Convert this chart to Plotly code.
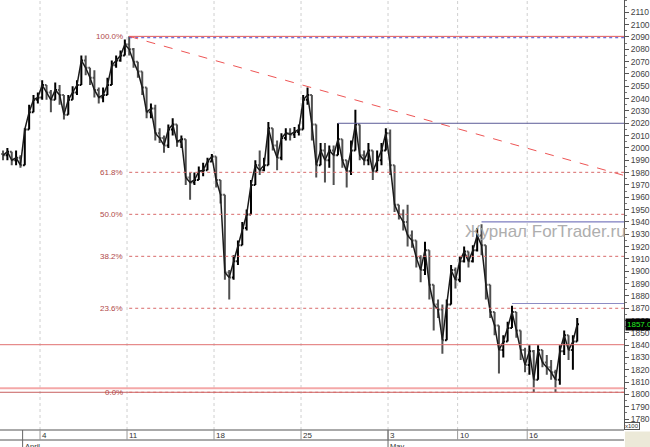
import plotly.graph_objects as go

# ---------------- data ----------------
BARS_PER_DAY = 4
BARS_BEFORE_APR4 = 9          # 1 bar of Mar 30, Mar 31, Apr 1

close = [1994, 1997, 1990, 1992, 1986, 2015, 2029, 2039, 2041, 2051,
         2045, 2039, 2047, 2043, 2027, 2039, 2045, 2051, 2071, 2065,
         2057, 2047, 2041, 2043, 2051, 2067, 2071, 2075, 2084, 2080,
         2070, 2062, 2049, 2029, 2032, 2012, 2008, 2002, 2015, 2019,
         2005, 2007, 1976, 1972, 1974, 1981, 1982, 1989, 1993, 1974,
         1962, 1899, 1895, 1908, 1921, 1935, 1946, 1970, 1986, 1982,
         1986, 2016, 2002, 1992, 2008, 2012, 2011, 2013, 2015, 2039,
         2043, 2019, 1986, 1998, 1990, 1998, 1994, 2007, 1990, 1981,
         1998, 2019, 1994, 1990, 1998, 1981, 1990, 1998, 2012, 1986,
         1954, 1946, 1940, 1929, 1925, 1911, 1901, 1917, 1889, 1873,
         1869, 1844, 1873, 1901, 1893, 1908, 1916, 1908, 1917, 1929,
         1921, 1889, 1867, 1856, 1836, 1843, 1854, 1867, 1852, 1836,
         1824, 1835, 1812, 1836, 1826, 1822, 1818, 1812, 1835, 1848,
         1836, 1843, 1857]

high = [1998, 2000, 1997, 1998, 1994, 2016, 2035, 2043, 2045, 2055,
        2051, 2047, 2053, 2051, 2035, 2043, 2050, 2055, 2075, 2075,
        2065, 2063, 2049, 2049, 2057, 2071, 2075, 2079, 2088, 2090.5,
        2081, 2070, 2062, 2047, 2036, 2035, 2016, 2010, 2019, 2024,
        2015, 2010, 2006, 1980, 1980, 1985, 1988, 1992, 1995, 1993,
        1970, 1962, 1901, 1913, 1925, 1940, 1950, 1974, 1990, 1998,
        1992, 2021, 2016, 2006, 2012, 2016, 2016, 2017, 2019, 2043,
        2049, 2043, 2019, 2004, 2004, 2002, 2002, 2020, 2002, 1990,
        2006, 2031, 2006, 1998, 2004, 1998, 1998, 2004, 2016, 2015,
        1986, 1954, 1950, 1954, 1933, 1925, 1913, 1924, 1913, 1889,
        1877, 1873, 1877, 1905, 1903, 1912, 1920, 1916, 1921, 1935,
        1938, 1921, 1881, 1867, 1856, 1848, 1859, 1872, 1867, 1852,
        1838, 1840, 1836, 1840, 1836, 1832, 1828, 1820, 1840, 1852,
        1848, 1848, 1862]

low = [1990, 1990, 1986, 1986, 1984, 1986, 2015, 2031, 2036, 2039,
       2039, 2029, 2041, 2035, 2023, 2027, 2039, 2043, 2051, 2059,
       2051, 2041, 2036, 2037, 2045, 2051, 2065, 2070, 2075, 2075,
       2065, 2057, 2043, 2024, 2024, 2006, 2004, 1996, 2000, 2010,
       2001, 2000, 1970, 1958, 1970, 1974, 1977, 1982, 1989, 1968,
       1955, 1893, 1877, 1893, 1905, 1921, 1933, 1946, 1970, 1978,
       1981, 1986, 1998, 1982, 1990, 2006, 2006, 2008, 2010, 2015,
       2035, 2006, 1976, 1986, 1972, 1984, 1970, 1997, 1984, 1968,
       1978, 1998, 1990, 1986, 1986, 1974, 1982, 1986, 1998, 1978,
       1948, 1942, 1933, 1920, 1919, 1903, 1891, 1897, 1877, 1852,
       1862, 1833, 1852, 1873, 1886, 1891, 1907, 1903, 1907, 1916,
       1913, 1877, 1862, 1848, 1817, 1830, 1844, 1854, 1846, 1828,
       1818, 1816, 1802, 1812, 1822, 1816, 1812, 1802, 1808, 1832,
       1828, 1820, 1843]

first_open = 1995

tick_days = [0, 5, 10, 15, 20, 24, 28]          # trading days after Apr 4
tick_labels = ["4", "11", "18", "25", "3", "10", "16"]
month_days = [-1, 20]
month_labels = ["April", "May"]

y_ticks = list(range(1780, 2111, 10))
Y_RANGE = [1771.2, 2120.0]

FIB_HIGH = 2090.5
FIB_LOW = 1801.8
fib_levels = [100.0, 61.8, 50.0, 38.2, 23.6, 0.0]
fib_labels = ["100.0%", "61.8%", "50.0%", "38.2%", "23.6%", "0.0%"]

TREND_END_PRICE = 1977.7                        # where the dashed trend line leaves the chart

resist_prices = [2089.4, 2020.0, 1940.0, 1873.8]
resist_start_bars = [29, 77, 110, 117]
resist_colors = ["#4a4ad0", "#5c5c98", "#5c5cb0", "#8c8cc4"]
resist_dash = ["dot", "solid", "solid", "solid"]

full_lines = [1840.4, 1805.0, 1801.8]
full_colors = ["#e07070", "#f4a8a8", "#c86060"]
full_widths = [1, 2, 1]

LAST_PRICE_TEXT = "1857.0"
WATERMARK = "Журнал ForTrader.ru"

# ---------------- derived ----------------
n = len(close)
xs = list(range(n))
opens = [first_open] + close[:-1]
highs = [max(h, o, c) for h, o, c in zip(high, opens, close)]
lows = [min(l, o, c) for l, o, c in zip(low, opens, close)]

XMIN, XMAX = -0.7, 142.75
PLOT_W, PLOT_H = 624, 430


def day_x(d):
    return BARS_BEFORE_APR4 - 0.5 + BARS_PER_DAY * d


peak_bar = max(range(n), key=lambda i: highs[i])

fig = go.Figure()
# close path (gives the dense, continuous look of the intraday bars)
fig.add_trace(go.Scatter(x=xs, y=close, mode="lines", line=dict(color="#1a1a1a", width=1.5),
                         hoverinfo="skip", showlegend=False))
fig.add_trace(go.Ohlc(
    x=xs, open=opens, high=highs, low=lows, close=close,
    increasing=dict(line=dict(color="#000000", width=2)),
    decreasing=dict(line=dict(color="#505050", width=2)),
    tickwidth=0.4, hoverinfo="skip", showlegend=False,
))

shapes = []
# vertical dotted week gridlines
for d in tick_days:
    shapes.append(dict(type="line", xref="x", yref="paper", x0=day_x(d), x1=day_x(d),
                       y0=0, y1=1, line=dict(color="#cfcfcf", width=1, dash="dot"), layer="below"))

# full-width horizontal lines
for p, c, w in zip(full_lines, full_colors, full_widths):
    shapes.append(dict(type="line", xref="paper", yref="y", x0=0, x1=1, y0=p, y1=p,
                       line=dict(color=c, width=w)))

# fibonacci levels
rng = FIB_HIGH - FIB_LOW
annotations = []
for lv, lab in zip(fib_levels, fib_labels):
    p = FIB_LOW + rng * lv / 100.0
    if lv == 100.0:
        ln = dict(color="#e05a5a", width=1)
    else:
        ln = dict(color="#d86a6a", width=1, dash="dot")
    shapes.append(dict(type="line", xref="x", yref="y", x0=peak_bar, x1=XMAX, y0=p, y1=p, line=ln))
    annotations.append(dict(x=peak_bar, y=p, xref="x", yref="y", text=lab, showarrow=False,
                            xanchor="right", yanchor="middle", xshift=-4,
                            font=dict(size=8, color="#b04848", family="Liberation Sans")))

# resistance lines
for p, b, c, ds in zip(resist_prices, resist_start_bars, resist_colors, resist_dash):
    shapes.append(dict(type="line", xref="x", yref="y", x0=b, x1=XMAX, y0=p, y1=p,
                       line=dict(color=c, width=1, dash=ds)))

# dashed trend line
shapes.append(dict(type="line", xref="x", yref="y", x0=peak_bar, y0=FIB_HIGH, x1=XMAX, y1=TREND_END_PRICE,
                   line=dict(color="#ee5555", width=1, dash="dash")))

# bottom time strip
y_mid = -10.0 / PLOT_H
y_bot = -17.0 / PLOT_H
shapes.append(dict(type="line", xref="paper", yref="paper", x0=0, x1=1, y0=0, y1=0,
                   line=dict(color="#555555", width=1)))
shapes.append(dict(type="line", xref="paper", yref="paper", x0=0, x1=1, y0=y_mid, y1=y_mid,
                   line=dict(color="#555555", width=1)))
for d, lab in zip(tick_days, tick_labels):
    shapes.append(dict(type="line", xref="x", yref="paper", x0=day_x(d), x1=day_x(d), y0=0, y1=y_mid,
                       line=dict(color="#999999", width=1)))
    annotations.append(dict(x=day_x(d), y=-5.0 / PLOT_H, xref="x", yref="paper", text=lab,
                            showarrow=False, xanchor="left", yanchor="middle", xshift=0,
                            font=dict(size=8, color="#333333", family="Liberation Sans")))
for d, lab in zip(month_days, month_labels):
    shapes.append(dict(type="line", xref="x", yref="paper", x0=day_x(d), x1=day_x(d), y0=0, y1=y_bot,
                       line=dict(color="#666666", width=1)))
    annotations.append(dict(x=day_x(d), y=y_mid, xref="x", yref="paper", text=lab,
                            showarrow=False, xanchor="left", yanchor="top", xshift=0, yshift=0,
                            font=dict(size=7.5, color="#333333", family="Liberation Sans")))

# beige corner box
shapes.append(dict(type="rect", xref="paper", yref="paper", x0=1.0015, x1=1 + 26.0 / PLOT_W,
                   y0=-1.5 / PLOT_H, y1=y_bot, fillcolor="#ece9d8", line=dict(width=0)))

# watermark
annotations.append(dict(x=463.0 / PLOT_W, y=1 - 231.0 / PLOT_H, xref="paper", yref="paper",
                        text=WATERMARK, showarrow=False, xanchor="left", yanchor="middle",
                        font=dict(size=17, color="#a6a6a6", family="Liberation Sans"), opacity=0.9))

# last price label
annotations.append(dict(x=1, y=close[-1], xref="paper", yref="y", text=LAST_PRICE_TEXT,
                        showarrow=False, xanchor="left", yanchor="middle", xshift=1,
                        bgcolor="#000000", borderpad=1,
                        font=dict(size=8, color="#22ee22", family="Liberation Sans")))
# x100 box
annotations.append(dict(x=1, y=4.0 / PLOT_H, xref="paper", yref="paper", text="x100",
                        showarrow=False, xanchor="left", yanchor="middle", xshift=0,
                        bgcolor="#ffffff", bordercolor="#555555", borderwidth=1, borderpad=0,
                        font=dict(size=6, color="#333333", family="Liberation Sans")))

fig.update_layout(
    width=650, height=447, autosize=False,
    margin=dict(l=0, r=26, t=0, b=17, pad=0),
    paper_bgcolor="#ffffff", plot_bgcolor="#ffffff",
    showlegend=False, shapes=shapes, annotations=annotations,
    hovermode=False,
    xaxis=dict(range=[XMIN, XMAX], showticklabels=False, showgrid=False, zeroline=False,
               showline=False, ticks="", rangeslider=dict(visible=False), fixedrange=True),
    yaxis=dict(range=Y_RANGE, side="right", tickvals=y_ticks, ticktext=[str(v) for v in y_ticks],
               showgrid=False, zeroline=False, showline=True, linecolor="#555555", linewidth=1,
               ticks="outside", ticklen=4, tickcolor="#555555",
               minor=dict(dtick=5, ticks="outside", ticklen=2, tickcolor="#777777"),
               tickfont=dict(size=8.5, color="#444444", family="Liberation Sans"), fixedrange=True),
)

fig.write_html("out.html", config={"displayModeBar": False, "staticPlot": True},
               post_script="document.body.style.margin='0px';document.body.style.overflow='hidden';")
